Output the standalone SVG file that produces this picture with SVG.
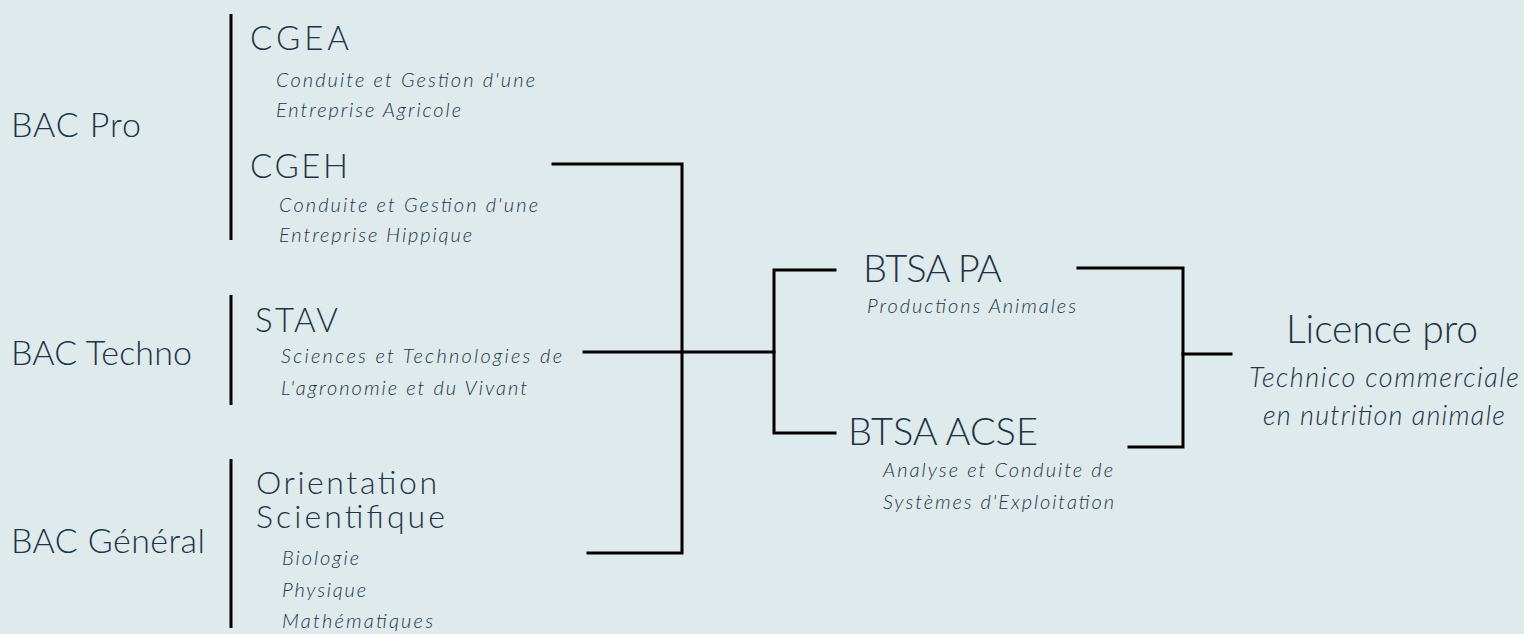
<svg xmlns="http://www.w3.org/2000/svg" width="1524" height="634" viewBox="0 0 1524 634">
<style>
.t{font-family:Lato,"Noto Sans",sans-serif;fill:#1f3447;font-weight:300}
.b{font-size:34px}
.h{font-size:33px}
.big{font-size:38px}
.s{font-size:20px;font-style:italic}
.l{font-size:27px;font-style:italic}
.bar{stroke:#000;stroke-width:3;fill:none}
.c{stroke:#000;stroke-width:3;fill:none;stroke-linecap:square}
</style>
<rect width="1524" height="634" fill="#deeaeb"/>
<g id="bac-pro"><text class="t b" x="11" y="137" textLength="130" lengthAdjust="spacing">BAC Pro</text></g>
<g id="bac-techno"><text class="t b" x="11" y="365" textLength="181" lengthAdjust="spacing">BAC Techno</text></g>
<g id="bac-general"><text class="t b" x="11" y="553" textLength="194" lengthAdjust="spacing">BAC Général</text></g>
<g id="bars">
<line class="bar" x1="231" y1="14" x2="231" y2="240"/>
<line class="bar" x1="231" y1="295" x2="231" y2="405"/>
<line class="bar" x1="231" y1="459" x2="231" y2="628"/>
</g>
<g id="cgea"><text class="t h" x="250" y="50" textLength="99" lengthAdjust="spacing">CGEA</text>
<text class="t s" x="276" y="87" textLength="259" lengthAdjust="spacing">Conduite et Gestion d'une</text>
<text class="t s" x="276" y="117" textLength="185" lengthAdjust="spacing">Entreprise Agricole</text></g>
<g id="cgeh"><text class="t h" x="250" y="178" textLength="98" lengthAdjust="spacing">CGEH</text>
<text class="t s" x="279" y="212" textLength="259" lengthAdjust="spacing">Conduite et Gestion d'une</text>
<text class="t s" x="279" y="242" textLength="193" lengthAdjust="spacing">Entreprise Hippique</text></g>
<g id="stav"><text class="t h" x="255" y="332" textLength="83" lengthAdjust="spacing">STAV</text>
<text class="t s" x="281" y="363" textLength="281" lengthAdjust="spacing">Sciences et Technologies de</text>
<text class="t s" x="281" y="395" textLength="246" lengthAdjust="spacing">L'agronomie et du Vivant</text></g>
<g id="orientation"><text class="t" style="font-size:32px"><tspan x="256" y="494" textLength="181" lengthAdjust="spacing">Orientation</tspan><tspan x="256" y="528" textLength="189" lengthAdjust="spacing">Scientifique</tspan></text>
<text class="t s" x="282" y="565" textLength="77" lengthAdjust="spacing">Biologie</text>
<text class="t s" x="282" y="597" textLength="84" lengthAdjust="spacing">Physique</text>
<text class="t s" x="282" y="628" textLength="151" lengthAdjust="spacing">Mathématiques</text></g>
<g id="btsa-pa"><text class="t big" x="863" y="282" textLength="139" lengthAdjust="spacing">BTSA PA</text>
<text class="t s" x="867" y="313" textLength="209" lengthAdjust="spacing">Productions Animales</text></g>
<g id="btsa-acse"><text class="t big" x="848" y="445" textLength="190" lengthAdjust="spacing">BTSA ACSE</text>
<text class="t s" x="883" y="477" textLength="230" lengthAdjust="spacing">Analyse et Conduite de</text>
<text class="t s" x="883" y="509" textLength="231" lengthAdjust="spacing">Systèmes d'Exploitation</text></g>
<g id="licence"><text class="t big" x="1286" y="343" style="font-size:39px" textLength="192" lengthAdjust="spacing">Licence pro</text>
<text class="t l" x="1249" y="387" textLength="270" lengthAdjust="spacing">Technico commerciale</text>
<text class="t l" x="1263" y="425" textLength="242" lengthAdjust="spacing">en nutrition animale</text></g>
<g id="connectors">
<polyline class="c" points="553,164 682,164 682,553 588,553"/>
<line class="c" x1="584" y1="352" x2="774" y2="352"/>
<polyline class="c" points="835,270 774,270 774,433 835,433"/>
<polyline class="c" points="1078,268 1183,268 1183,447 1129,447"/>
<line class="c" x1="1183" y1="354" x2="1231" y2="354"/>
</g>
</svg>
